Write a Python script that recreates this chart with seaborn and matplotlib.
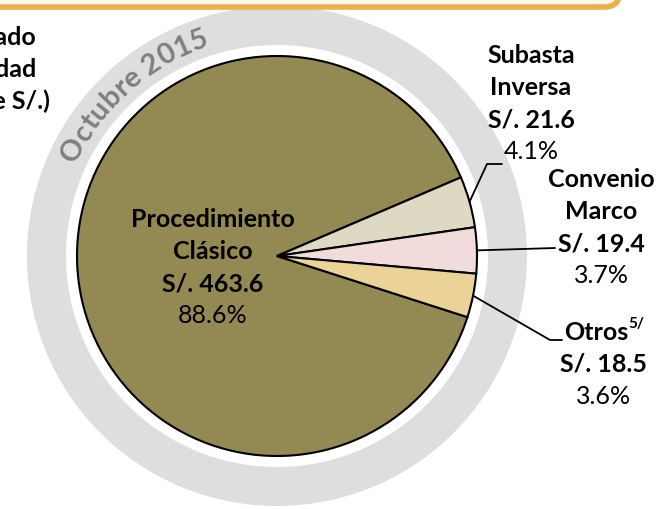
import numpy as np
import matplotlib
matplotlib.use('Agg')
import matplotlib.pyplot as plt
import seaborn as sns
from matplotlib.patches import Wedge, FancyBboxPatch
from matplotlib.font_manager import FontProperties

# Datos: monto adjudicado por modalidad (octubre 2015)
categorias = ['Procedimiento\nClásico', 'Subasta\nInversa', 'Convenio\nMarco', 'Otros']
montos = [463.6, 21.6, 19.4, 18.5]
porcentajes = [88.6, 4.1, 3.7, 3.6]
colores = ['#938953', '#DDD9C3', '#F2DCDB', '#EBD397']
titulo = ['Monto adjudicado', 'por modalidad', '(Millones de S/.)']
periodo = 'Octubre 2015'

sns.set_theme(style='white')
plt.rcParams['font.family'] = ['Lato', 'DejaVu Sans']

W, H = 670, 510
def Y(y):
    # coordenadas de imagen -> coordenadas de datos
    return H - y

fig = plt.figure(figsize=(6.7, 5.1), dpi=100)
ax = fig.add_axes([0, 0, 1, 1])
cx, cy, r = 277, Y(257), 200

# anillo gris
ax.add_patch(Wedge((cx, cy), 250, 0, 360, width=39, fc='#DEDEDE', ec='none', zorder=0))

wedges, _ = ax.pie(montos, colors=colores, startangle=-17.8, counterclock=False,
                   center=(cx, cy), radius=r, frame=True,
                   wedgeprops=dict(edgecolor='black', linewidth=1.5))
ax.set_xlim(0, W)
ax.set_ylim(0, H)
ax.axis('off')

# cabecera naranja
ax.add_patch(FancyBboxPatch((-40, Y(8)), 660, 60, boxstyle='round,pad=0,rounding_size=16',
                            fc='#FFF8EC', ec='#EDB04A', lw=4, zorder=5, clip_on=False))

fs = 18
# titulo recortado a la izquierda
for txt, x, yb in zip(titulo, [36, 36, 50], [45, 77, 109]):
    ax.text(x, Y(yb), txt, ha='right', va='baseline', fontsize=fs, fontweight='bold', color='black')

# etiquetas
bloques = [(213, 227), (531, 63), (601, 187), (604, 340)]
textos = []
for i, (x, yb) in enumerate(bloques):
    nombre = categorias[i].split('\n')
    lineas = [(n, 'bold') for n in nombre]
    lineas += [(f'S/. {montos[i]}', 'bold'), (f'{porcentajes[i]}%', 'normal')]
    for k, (t, w) in enumerate(lineas):
        xx = 596 if t == 'Otros' else x
        textos.append(ax.text(xx, Y(yb + 32 * k), t, ha='center', va='baseline', fontsize=fs,
                              fontweight=w, color='black', zorder=6))
# superindice de Otros
otros = [t for t in textos if t.get_text() == 'Otros'][0]
ax.annotate('5/', xy=(1.0, 0.55), xycoords=otros, xytext=(0, 0), textcoords='offset points',
            ha='left', va='bottom', fontsize=11, fontweight='bold', color='black')

# lineas guia
def borde(w):
    a = np.deg2rad((w.theta1 + w.theta2) / 2)
    return cx + r * np.cos(a), cy + r * np.sin(a)

guias = {1: [(487, 165), (502, 165)], 2: [(555, 249)], 3: [(550, 341), (562, 341)]}
for i, pts in guias.items():
    x0, y0 = borde(wedges[i])
    xs = [x0] + [p[0] for p in pts]
    ys = [y0] + [Y(p[1]) for p in pts]
    ax.plot(xs, ys, color='black', lw=1.3, zorder=6)

# texto curvo en el anillo
fp = FontProperties(family='Lato', weight='bold', size=21)
renderer = fig.canvas.get_renderer()
def ancho(s):
    return renderer.get_text_width_height_descent(s + 'I', fp, ismath=False)[0] - \
        renderer.get_text_width_height_descent('I', fp, ismath=False)[0]
centros = [(ancho(periodo[:i]) + ancho(periodo[:i + 1])) / 2 for i in range(len(periodo))]
medio = (centros[0] + centros[-1]) / 2
rt = 222
for ch, c in zip(periodo, centros):
    ang = 131.0 - np.rad2deg((c - medio) * 1.05 / (rt + 9))
    t = np.deg2rad(ang)
    ax.text(cx + rt * np.cos(t), cy + rt * np.sin(t), ch, rotation=ang - 90,
            rotation_mode='anchor', ha='center', va='baseline', fontproperties=fp,
            color='#7F7F7F', zorder=1)

fig.savefig('out.png', dpi=100)
